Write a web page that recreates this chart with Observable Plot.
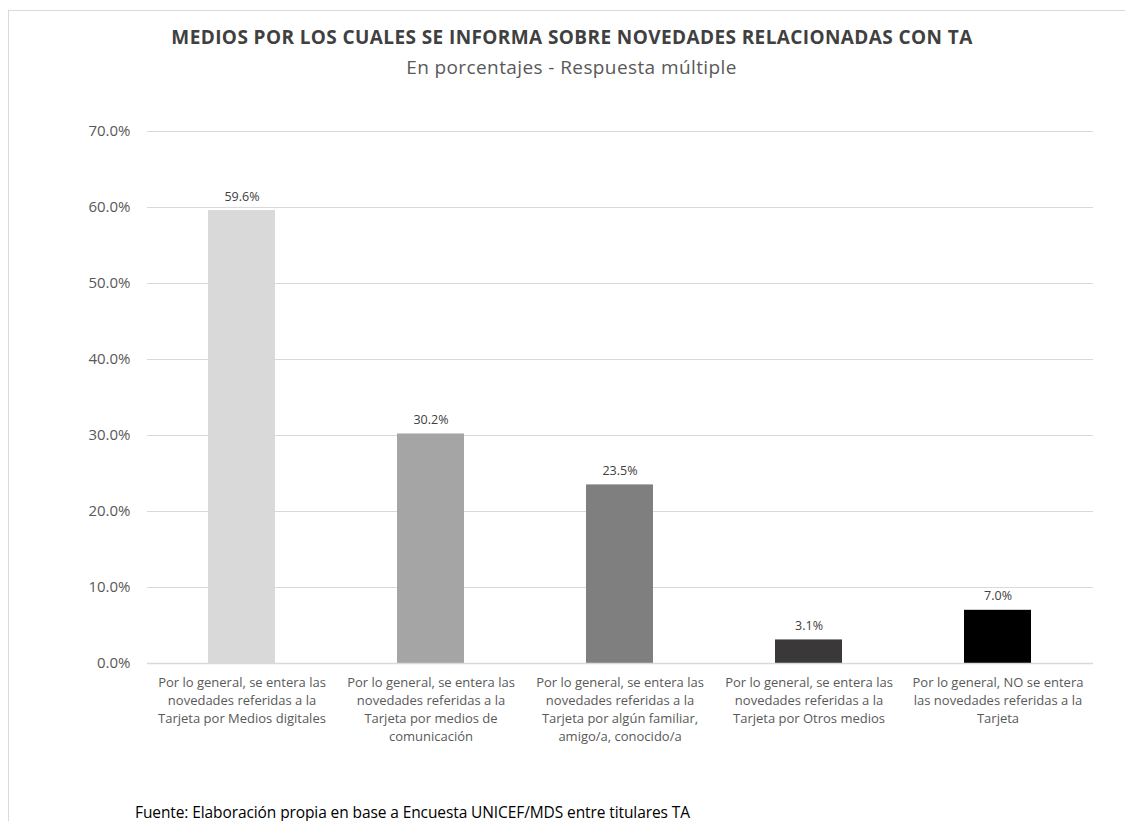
<!DOCTYPE html>
<html>
<head>
<meta charset="utf-8">
<script src="https://cdn.jsdelivr.net/npm/d3@7"></script>
<script src="https://cdn.jsdelivr.net/npm/@observablehq/plot@0.6"></script>
<style>
  html, body { margin: 0; padding: 0; background: #fff; }
  body { width: 1125px; height: 821px; position: relative; overflow: hidden; font-family: "Open Sans", sans-serif; }
  #frame { position: absolute; left: 8px; top: 10px; right: -2px; bottom: -2px; border-top: 1px solid #d9d9d9; border-left: 1px solid #d9d9d9; }
  #title { position: absolute; left: 0; width: 1144px; top: 24px; text-align: center; font-weight: 700; font-size: 19px; color: #404040; letter-spacing: 0.4px; white-space: nowrap; }
  #subtitle { position: absolute; left: 0; width: 1143px; top: 54px; text-align: center; font-size: 19px; color: #595959; letter-spacing: 0.4px; white-space: nowrap; }
  #chart { position: absolute; left: 0; top: 110px; }
  #footer { position: absolute; left: 135px; top: 801px; font-size: 15.5px; color: #000; letter-spacing: -0.1px; white-space: nowrap; }
</style>
</head>
<body>
<div id="frame"></div>
<div id="title">MEDIOS POR LOS CUALES SE INFORMA SOBRE NOVEDADES RELACIONADAS CON TA</div>
<div id="subtitle">En porcentajes - Respuesta múltiple</div>
<div id="chart"></div>
<div id="footer">Fuente: Elaboración propia en base a Encuesta UNICEF/MDS entre titulares TA</div>
<script>
const categories = [
  "Por lo general, se entera las\nnovedades referidas a la\nTarjeta por Medios digitales",
  "Por lo general, se entera las\nnovedades referidas a la\nTarjeta por medios de\ncomunicación",
  "Por lo general, se entera las\nnovedades referidas a la\nTarjeta por algún familiar,\namigo/a, conocido/a",
  "Por lo general, se entera las\nnovedades referidas a la\nTarjeta por Otros medios",
  "Por lo general, NO se entera\nlas novedades referidas a la\nTarjeta"
];
const values = [59.6, 30.2, 23.5, 3.1, 7.0];
const colors = ["#d9d9d9", "#a5a5a5", "#7f7f7f", "#3a3838", "#000000"];
const yTicks = [0, 10, 20, 30, 40, 50, 60, 70];

const data = categories.map((c, i) => ({cat: c, value: values[i], color: colors[i]}));

const chart = Plot.plot({
  width: 1125,
  height: 690,
  marginTop: 21,
  marginBottom: 137,
  marginLeft: 147,
  marginRight: 32,
  style: {fontFamily: "Open Sans, sans-serif", background: "transparent"},
  x: {domain: categories, paddingInner: 0.645, paddingOuter: 0.3225, axis: null},
  y: {domain: [0, 70], ticks: yTicks},
  marks: [
    Plot.gridY(yTicks, {stroke: "#d9d9d9", strokeOpacity: 1, strokeWidth: 1}),
    Plot.axisY(yTicks, {tickSize: 0, tickPadding: 17, fontSize: 15, fill: "#595959", tickFormat: d => d.toFixed(1) + "%", label: null}),
    Plot.barY(data, {x: "cat", y: "value", fill: "color"}),
    Plot.ruleY([0], {stroke: "#d9d9d9", strokeWidth: 1.5}),
    Plot.text(data, {x: "cat", y: "value", text: d => d.value.toFixed(1) + "%", dy: -10, lineAnchor: "bottom", fontSize: 12.5, fill: "#404040"}),
    Plot.text(data, {x: "cat", y: 0, text: "cat", dy: 11, lineAnchor: "top", lineHeight: 1.385, fontSize: 13, fill: "#595959"})
  ]
});
document.getElementById("chart").appendChild(chart);
</script>
</body>
</html>
